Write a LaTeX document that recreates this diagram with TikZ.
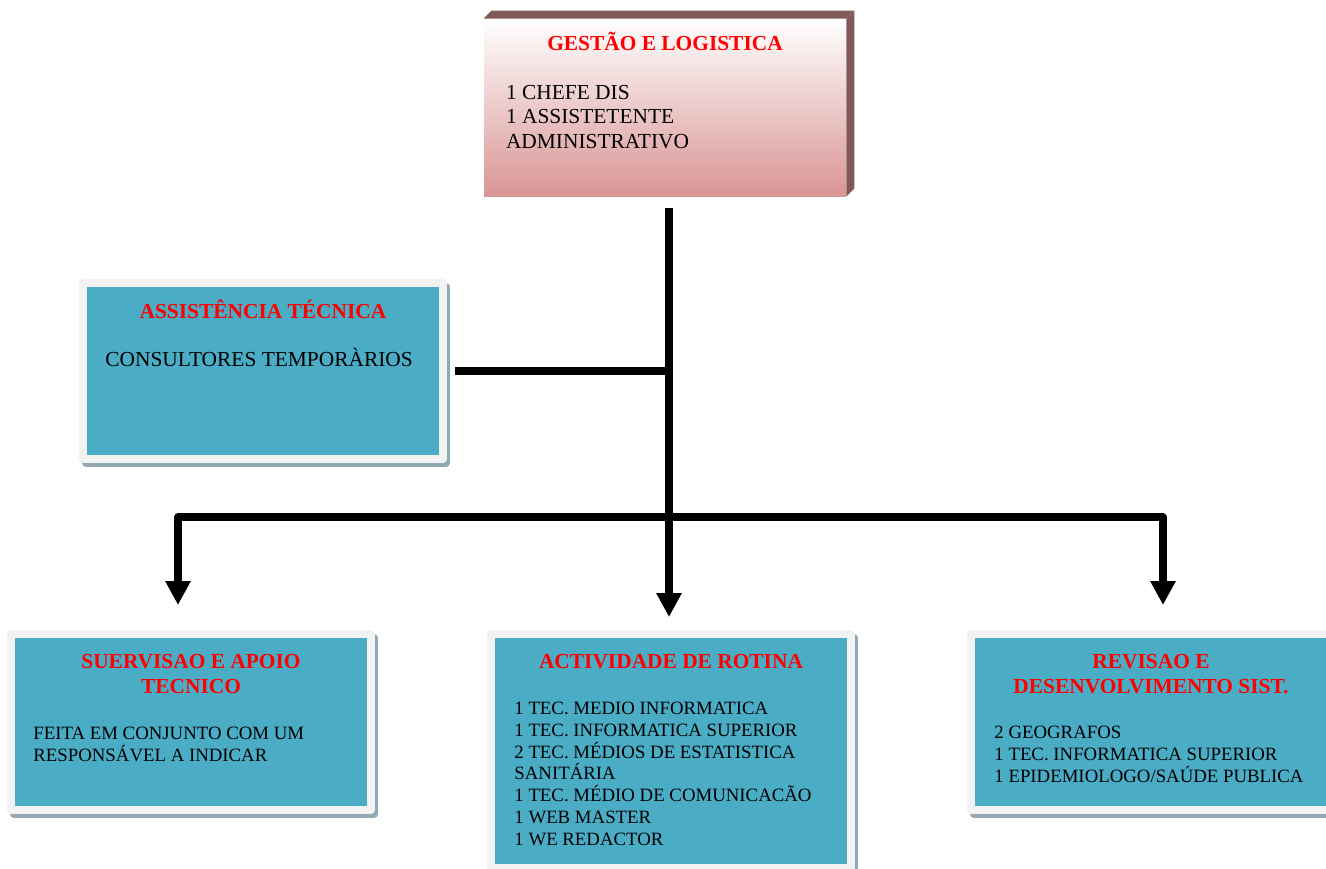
\documentclass[tikz,border=0pt]{standalone}
\usepackage{fontspec}
\setmainfont{Liberation Serif}
\usetikzlibrary{arrows.meta,positioning}

\definecolor{azulcaixa}{HTML}{4BACC6}
\definecolor{molduracaixa}{HTML}{F2F2F2}
\definecolor{sombracaixa}{HTML}{92A9B5}
\definecolor{rosafundo}{HTML}{D99594}
\definecolor{rosameio}{HTML}{EDCDCD}
\definecolor{castanho}{HTML}{805A5A}

\begin{document}
\begin{tikzpicture}[
		x=0.5pt, y=-0.5pt,
		every node/.style={font=\fontsize{10.7}{12}\selectfont},
		line cap=butt,
		line join=round,
		caixa/.style={
			draw=molduracaixa, line width=4pt, fill=azulcaixa,
			minimum width=180pt, minimum height=88pt, inner sep=0pt,
			preaction={draw=sombracaixa, fill=sombracaixa,
				transform canvas={xshift=1.5pt, yshift=-2pt}}
		},
		titulo/.style={
			font=\fontsize{10.7}{12.5}\selectfont\bfseries, text=red,
			align=center, inner sep=0pt, anchor=north
		},
		corpo/.style={align=left, inner sep=0pt, anchor=north west},
		lista/.style={corpo, font=\fontsize{9.4}{10.85}\selectfont},
		linha/.style={line width=3.6pt, black},
		seta/.style={linha, -{Triangle[length=12pt, width=12pt]}}
		]
		% =========================
		% Page frame
		% =========================
		\useasboundingbox (0,0) rectangle (1326,868);
		\clip (0,0) rectangle (1326,868);
		
		% --------------------------------
		% Top box, with its 3D edge
		% --------------------------------
		\def\dep{8}
		\node[minimum width=181pt, minimum height=88.5pt, inner sep=0pt,
		top color=white, middle color=rosameio, bottom color=rosafundo,
		shading angle=0] (gestao) at (665,107.5) {};
		\fill[castanho]
		(gestao.north west) -- ++(\dep,-\dep)
		-- ([shift={(\dep,-\dep)}]gestao.north east) -- (gestao.north east) -- cycle;
		\fill[castanho]
		(gestao.north east) -- ++(\dep,-\dep)
		-- ([shift={(\dep,-\dep)}]gestao.south east) -- (gestao.south east) -- cycle;
		
		\node[titulo] (gestaoTit) at ([shift={(0,13)}]gestao.north) {GESTÃO E LOGISTICA};
		\node[corpo, font=\fontsize{10.7}{12.25}\selectfont] (gestaoTxt)
		at ([shift={(22,66)}]gestao.north west)
		{1 CHEFE DIS\\1 ASSISTETENTE\\ADMINISTRATIVO};
		
		% --------------------------------
		% Side box
		% --------------------------------
		\node[caixa] (assist) at (263,371) {};
		\node[titulo] (assistTit) at ([shift={(0,21)}]assist.north) {ASSISTÊNCIA TÉCNICA};
		\node[corpo] (assistTxt) at ([shift={(26,69)}]assist.north west) {CONSULTORES TEMPORÀRIOS};
		
		% --------------------------------
		% Bottom row of boxes
		% --------------------------------
		\node[caixa] (apoio) at (191,722) {};
		\node[titulo] (apoioTit) at ([shift={(0,24)}]apoio.north) {SUERVISAO E APOIO\\TECNICO};
		\node[lista] (apoioTxt) at ([shift={(26,97)}]apoio.north west)
		{FEITA EM CONJUNTO COM UM\\RESPONSÁVEL A INDICAR};
		
		\node[caixa, minimum height=117pt] (rotina) at (671,751) {};
		\node[titulo] (rotinaTit) at ([shift={(0,24)}]rotina.north) {ACTIVIDADE DE ROTINA};
		\node[lista] (rotinaTxt) at ([shift={(27,72)}]rotina.north west)
		{1 TEC. MEDIO INFORMATICA\\
			1 TEC. INFORMATICA SUPERIOR\\
			2 TEC. MÉDIOS DE ESTATISTICA\\
			SANITÁRIA\\
			1 TEC. MÉDIO DE COMUNICACÃO\\
			1 WEB MASTER\\
			1 WE REDACTOR};
		
		\node[caixa] (revisao) at (1151,722) {};
		\node[titulo] (revisaoTit) at ([shift={(0,24)}]revisao.north) {REVISAO E\\DESENVOLVIMENTO SIST.};
		\node[lista] (revisaoTxt) at ([shift={(27,96)}]revisao.north west)
		{2 GEOGRAFOS\\1 TEC. INFORMATICA SUPERIOR\\1 EPIDEMIOLOGO/SAÚDE PUBLICA};
		
		% --------------------------------
		% Connectors
		% --------------------------------
		\coordinate (tronco) at ([shift={(4,12)}]gestao.south);
		\coordinate (barra) at (tronco |- 0,517);
		
		\draw[seta] (tronco) -- ([yshift=6.5pt]rotina.north -| tronco);
		\draw[linha] ([xshift=4pt]assist.east) -- (assist.east -| tronco);
		\draw[seta] (barra) -| ([shift={(-13,-25)}]apoio.north);
		\draw[seta] (barra) -| ([shift={(12,-25)}]revisao.north);
		
	\end{tikzpicture}
\end{document}
